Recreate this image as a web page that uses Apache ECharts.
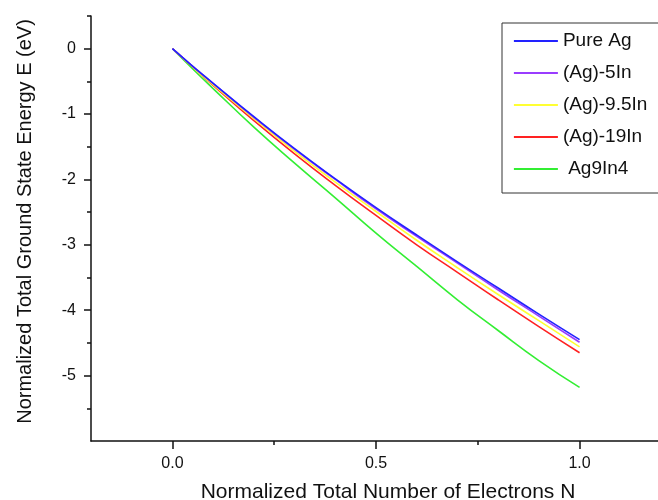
<!DOCTYPE html>
<html>
<head>
<meta charset="utf-8">
<script src="https://cdn.jsdelivr.net/npm/echarts@6/dist/echarts.min.js"></script>
<style>
  html, body { margin: 0; padding: 0; background: #fff; }
  #chart { width: 658px; height: 500px; }
</style>
</head>
<body>
<div id="chart"></div>
<script>
// x values (normalized number of electrons)
var xs = [0, 0.05, 0.1, 0.2, 0.3, 0.4, 0.5, 0.6, 0.7, 0.8, 0.9, 1.0];

// energies
var pureAg   = [0, -0.27, -0.53, -1.04, -1.53, -1.99, -2.43, -2.85, -3.26, -3.66, -4.06, -4.45];
var ag5In    = [0, -0.27, -0.53, -1.05, -1.54, -2.00, -2.45, -2.87, -3.28, -3.69, -4.09, -4.49];
var ag95In   = [0, -0.28, -0.55, -1.07, -1.57, -2.04, -2.49, -2.93, -3.35, -3.76, -4.16, -4.56];
var ag19In   = [0, -0.28, -0.56, -1.10, -1.61, -2.09, -2.55, -3.00, -3.42, -3.84, -4.25, -4.65];
var ag9In4   = [0, -0.31, -0.61, -1.20, -1.75, -2.28, -2.82, -3.33, -3.84, -4.31, -4.77, -5.18];

var names  = ["Pure Ag", "(Ag)-5In", "(Ag)-9.5In", "(Ag)-19In", " Ag9In4"];
var colors = ["#2222ff", "#9a3cff", "#ffff33", "#ff2222", "#33ee33"];

// tick positions
var xMajor = [0, 0.5, 1.0];
var xMinor = [0.25, 0.75];
var yMajor = [-5, -4, -3, -2, -1, 0];
var yMinor = [-5.5, -4.5, -3.5, -2.5, -1.5, -0.5, 0.5];

function pairs(ys) {
  return xs.map(function (x, i) { return [x, ys[i]]; });
}

var font = "Liberation Sans, Arial, sans-serif";
var chart = echarts.init(document.getElementById("chart"));

var series = [pureAg, ag5In, ag95In, ag19In, ag9In4].map(function (d, i) {
  return {
    name: names[i],
    type: "line",
    data: pairs(d),
    smooth: true,
    symbol: "none",
    z: 10 - i,
    lineStyle: { color: colors[i], width: 1.6 },
    itemStyle: { color: colors[i] }
  };
});
// draw Pure Ag on top
series[0].z = 20;

chart.setOption({
  animation: false,
  grid: { left: 91, top: 16, right: -3, bottom: 59, outerBoundsMode: "none", containLabel: false },
  legend: {
    orient: "vertical",
    left: 502,
    top: 23,
    padding: [8, 20, 14, 11],
    itemWidth: 44,
    itemHeight: 20,
    itemGap: 12,
    borderColor: "#333",
    borderWidth: 1,
    itemStyle: { opacity: 0 },
    lineStyle: { width: 1.8 },
    textStyle: { fontFamily: font, fontSize: 19, color: "#111", lineHeight: 20 },
    data: names
  },
  xAxis: [
    {
      type: "value",
      min: -0.2,
      max: 1.2,
      name: "Normalized Total Number of Electrons N",
      nameLocation: "middle",
      nameGap: 41,
      nameTextStyle: { fontFamily: font, fontSize: 21, color: "#111", padding: [0, 0, 0, 24] },
      axisLine: { onZero: false, lineStyle: { color: "#111", width: 1.5 } },
      axisTick: { customValues: xMinor, length: 4, lineStyle: { color: "#111", width: 1.5 } },
      axisLabel: {
        customValues: xMajor,
        margin: 15,
        fontFamily: font,
        fontSize: 16,
        color: "#111",
        formatter: function (v) { return v.toFixed(1); }
      },
      splitLine: { show: false }
    },
    {
      type: "value",
      min: -0.2,
      max: 1.2,
      position: "bottom",
      axisLine: { show: false, onZero: false },
      axisTick: { customValues: xMajor, length: 8, lineStyle: { color: "#111", width: 1.5 } },
      axisLabel: { show: false },
      splitLine: { show: false }
    }
  ],
  yAxis: [
    {
      type: "value",
      min: -6,
      max: 0.5,
      name: "Normalized Total Ground State Energy E (eV)",
      nameLocation: "middle",
      nameGap: 56,
      nameTextStyle: { fontFamily: font, fontSize: 20, color: "#111", padding: [0, 0, 0, 14] },
      axisLine: { show: true, onZero: false, lineStyle: { color: "#111", width: 1.5 } },
      axisTick: { show: true, customValues: yMinor, length: 4, lineStyle: { color: "#111", width: 1.5 } },
      axisLabel: {
        customValues: yMajor,
        margin: 15,
        fontFamily: font,
        fontSize: 16,
        color: "#111"
      },
      splitLine: { show: false }
    },
    {
      type: "value",
      min: -6,
      max: 0.5,
      position: "left",
      axisLine: { show: false, onZero: false },
      axisTick: { show: true, customValues: yMajor, length: 7, lineStyle: { color: "#111", width: 1.5 } },
      axisLabel: { show: false },
      splitLine: { show: false }
    }
  ],
  series: series
});
</script>
</body>
</html>
